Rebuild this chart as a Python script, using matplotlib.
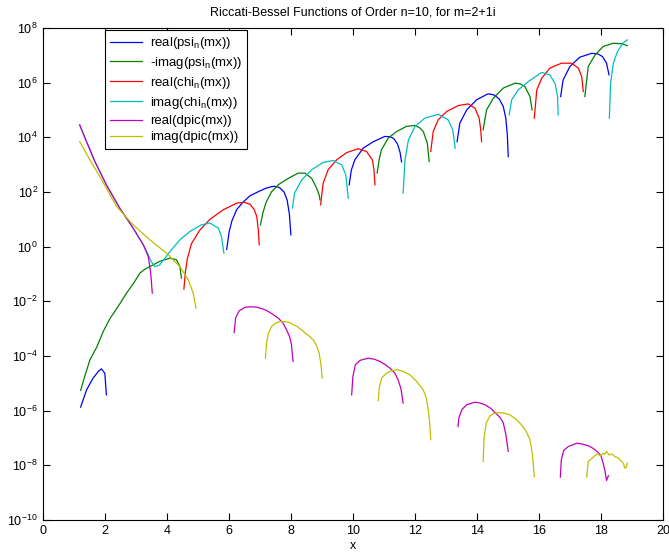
import numpy as np
import matplotlib.pyplot as plt

plt.rcParams['font.family'] = ['Liberation Sans', 'DejaVu Sans']
plt.rcParams['mathtext.default'] = 'regular'

nan = float('nan')

# x positions and log10 of the plotted value
# (nan separates the arches: negative values are not shown on a log axis)
real_psi_x = [1.22, 1.41, 1.62, 1.80, 1.89, 2.00, 2.05, nan,
              5.93, 6.01, 6.10, 6.25, 6.45, 6.68, 6.95, 7.20, 7.45, 7.62, 7.78, 7.88, 7.95, 8.00, nan,
              9.88, 9.95, 10.06, 10.33, 10.66, 11.03, 11.20, 11.32, 11.44, 11.52, 11.57, nan,
              13.36, 13.45, 13.67, 13.99, 14.36, 14.55, 14.72, 14.85, 14.93, 14.98, 15.01, nan,
              16.70, 16.78, 17.00, 17.32, 17.70, 17.90, 18.05, 18.18, 18.26]
real_psi_exp = [-5.87, -5.24, -4.81, -4.55, -4.47, -4.63, -5.42, nan,
                -0.10, 0.55, 0.95, 1.35, 1.62, 1.86, 2.01, 2.14, 2.21, 2.17, 2.00, 1.70, 1.20, 0.43, nan,
                2.26, 2.80, 3.17, 3.60, 3.84, 4.03, 4.02, 3.95, 3.75, 3.45, 3.10, nan,
                3.84, 4.52, 5.00, 5.37, 5.59, 5.55, 5.40, 5.12, 4.70, 4.10, 3.29, nan,
                5.49, 6.10, 6.59, 6.93, 7.07, 7.05, 6.95, 6.71, 6.28]

neg_imag_psi_x = [1.22, 1.35, 1.52, 1.75, 1.95, 2.16, 2.45, 2.70, 2.95, 3.13, 3.30, 3.45, 3.77, 4.10, 4.31, 4.42, 4.47, nan,
                  7.02, 7.10, 7.20, 7.38, 7.59, 7.75, 8.00, 8.24, 8.45, 8.67, 8.83, 8.91, 8.94, nan,
                  10.78, 10.85, 10.92, 11.14, 11.41, 11.73, 12.00, 12.15, 12.27, 12.40, 12.46, nan,
                  14.20, 14.31, 14.53, 14.85, 15.23, 15.40, 15.55, 15.71, 15.78, nan,
                  17.48, 17.59, 17.81, 18.07, 18.40, 18.67, 18.85]
neg_imag_psi_exp = [-5.26, -4.75, -4.14, -3.65, -3.10, -2.64, -2.15, -1.70, -1.30, -0.97, -0.82, -0.73, -0.54, -0.42, -0.48, -0.73, -1.15, nan,
                    0.80, 1.25, 1.62, 2.01, 2.26, 2.38, 2.55, 2.69, 2.69, 2.50, 2.14, 1.90, 1.71, nan,
                    2.69, 3.20, 3.54, 3.97, 4.21, 4.40, 4.43, 4.35, 4.21, 3.78, 3.11, nan,
                    4.27, 5.00, 5.43, 5.80, 5.98, 5.95, 5.85, 5.49, 5.00, nan,
                    5.49, 6.59, 7.01, 7.32, 7.44, 7.42, 7.35]

real_chi_x = [4.55, 4.60, 4.66, 4.79, 5.06, 5.39, 5.82, 6.25, 6.50, 6.68, 6.82, 6.90, 6.95, 6.98, nan,
              8.96, 9.04, 9.20, 9.47, 9.80, 10.17, 10.44, 10.63, 10.68, 10.71, nan,
              12.51, 12.59, 12.75, 13.02, 13.40, 13.72, 13.94, 14.07, 14.12, 14.15, nan,
              15.85, 15.93, 16.09, 16.35, 16.73, 17.05, 17.27, 17.38, 17.43]
real_chi_exp = [-1.55, -0.90, -0.45, 0.10, 0.60, 1.00, 1.35, 1.59, 1.62, 1.55, 1.35, 1.10, 0.60, 0.07, nan,
                1.53, 2.32, 2.81, 3.17, 3.44, 3.58, 3.48, 3.17, 2.80, 2.26, nan,
                3.48, 4.21, 4.64, 4.94, 5.16, 5.22, 5.06, 4.70, 4.30, 3.84, nan,
                4.70, 5.73, 6.16, 6.53, 6.71, 6.71, 6.53, 6.22, 5.67]

imag_chi_x = [1.19, 1.41, 1.68, 2.05, 2.48, 2.91, 3.24, 3.40, 3.50, 3.61, 3.77, 4.10, 4.42, 4.74, 5.12, 5.39, 5.66, 5.76, 5.84, nan,
              8.05, 8.12, 8.35, 8.67, 9.04, 9.37, 9.64, 9.77, 9.85, nan,
              11.62, 11.68, 11.79, 12.00, 12.32, 12.75, 13.07, 13.22, 13.30, nan,
              15.04, 15.12, 15.33, 15.66, 16.09, 16.35, 16.52, 16.60, 16.62, nan,
              18.27, 18.31, 18.40, 18.53, 18.72, 18.85]
imag_chi_exp = [4.45, 3.84, 3.11, 2.26, 1.41, 0.68, 0.07, -0.30, -0.55, -0.73, -0.67, -0.18, 0.25, 0.55, 0.80, 0.86, 0.68, 0.37, -0.24, nan,
                1.41, 1.96, 2.44, 2.81, 3.08, 3.15, 2.99, 2.63, 1.77, nan,
                1.96, 3.17, 3.90, 4.39, 4.70, 4.84, 4.64, 4.27, 3.60, nan,
                4.82, 5.37, 5.73, 6.04, 6.37, 6.28, 5.97, 5.49, 4.82, nan,
                4.70, 5.97, 6.71, 7.13, 7.46, 7.56]

real_dpic_x = [1.19, 1.41, 1.68, 2.05, 2.48, 2.91, 3.24, 3.40, 3.48, 3.53, nan,
               6.17, 6.22, 6.33, 6.52, 6.70, 6.89, 7.10, 7.27, 7.45, 7.59, 7.75, 7.86, 7.96, 8.02, 8.07, nan,
               9.96, 10.00, 10.08, 10.23, 10.49, 10.70, 10.87, 11.05, 11.19, 11.35, 11.46, 11.55, 11.62, nan,
               13.39, 13.42, 13.52, 13.67, 13.94, 14.10, 14.26, 14.45, 14.58, 14.75, 14.85, 14.93, 15.01, nan,
               16.69, 16.72, 16.80, 16.95, 17.22, 17.40, 17.59, 17.75, 17.91, 18.00, 18.07, 18.13, 18.18, 18.24]
real_dpic_exp = [4.45, 3.84, 3.11, 2.26, 1.41, 0.68, 0.07, -0.36, -0.97, -1.70, nan,
                 -3.14, -2.60, -2.35, -2.22, -2.20, -2.21, -2.28, -2.37, -2.50, -2.61, -2.80, -3.04, -3.30, -3.59, -4.20, nan,
                 -5.42, -4.75, -4.32, -4.16, -4.08, -4.12, -4.20, -4.32, -4.44, -4.62, -4.87, -5.20, -5.72, nan,
                 -6.58, -6.25, -5.95, -5.78, -5.69, -5.72, -5.78, -5.92, -6.07, -6.25, -6.45, -6.85, -7.49, nan,
                 -8.43, -7.80, -7.45, -7.31, -7.19, -7.22, -7.28, -7.38, -7.53, -7.65, -7.92, -8.20, -8.55, -8.38]

imag_dpic_x = [1.19, 1.52, 1.84, 2.38, 2.91, 3.45, 3.99, 4.42, 4.69, 4.85, 4.94, nan,
               7.18, 7.21, 7.28, 7.38, 7.50, 7.65, 7.80, 7.97, 8.20, 8.40, 8.60, 8.72, 8.83, 8.91, 8.97, 9.01, nan,
               10.82, 10.85, 10.93, 11.08, 11.25, 11.41, 11.62, 11.84, 12.05, 12.27, 12.37, 12.43, 12.48, 12.51, nan,
               14.20, 14.23, 14.30, 14.42, 14.55, 14.69, 14.88, 15.06, 15.25, 15.44, 15.60, 15.71, 15.79, 15.85, nan,
               17.54, 17.59, 17.75, 17.83, 17.91, 17.98, 18.07, 18.12, 18.18, 18.26, 18.34, 18.45,
               18.56, 18.66, 18.72, 18.77, 18.81, 18.85]
imag_dpic_exp = [3.84, 3.17, 2.56, 1.47, 0.80, 0.25, -0.24, -0.73, -1.21, -1.70, -2.25, nan,
                 -4.08, -3.55, -3.15, -2.92, -2.80, -2.74, -2.74, -2.78, -2.92, -3.10, -3.28, -3.41, -3.62, -3.89, -4.30, -4.81, nan,
                 -5.63, -5.15, -4.80, -4.63, -4.54, -4.50, -4.56, -4.69, -4.92, -5.24, -5.55, -5.97, -6.50, -7.06, nan,
                 -7.86, -7.00, -6.45, -6.19, -6.10, -6.07, -6.09, -6.15, -6.30, -6.52, -6.78, -7.06, -7.60, -8.41, nan,
                 -8.43, -7.86, -7.70, -7.62, -7.58, -7.66, -7.55, -7.60, -7.49, -7.62, -7.58, -7.68,
                 -7.73, -7.85, -7.92, -8.10, -8.08, -7.92]

series = [
    (real_psi_x, real_psi_exp, (0, 0, 1), 'real(psi$_n$(mx))'),
    (neg_imag_psi_x, neg_imag_psi_exp, (0, 0.5, 0), '-imag(psi$_n$(mx))'),
    (real_chi_x, real_chi_exp, (1, 0, 0), 'real(chi$_n$(mx))'),
    (imag_chi_x, imag_chi_exp, (0, 0.75, 0.75), 'imag(chi$_n$(mx))'),
    (real_dpic_x, real_dpic_exp, (0.75, 0, 0.75), 'real(dpic(mx))'),
    (imag_dpic_x, imag_dpic_exp, (0.75, 0.75, 0), 'imag(dpic(mx))'),
]

fig = plt.figure(figsize=(6.69, 5.58), dpi=100)
ax = fig.add_axes([0.064, 0.068, 0.927, 0.882])

for xs, ex, col, lab in series:
    ax.semilogy(xs, 10.0 ** np.array(ex), color=col, lw=0.9, label=lab)

ax.set_xlim(0, 20)
ax.set_ylim(1e-10, 1e8)
ax.set_xticks(np.arange(0, 21, 2))
ax.set_yticks([10.0 ** k for k in range(-10, 9, 2)])
ax.yaxis.set_minor_locator(plt.NullLocator())
ax.tick_params(direction='in', top=True, right=True, length=5, labelsize=9)
ax.set_xlabel('x', fontsize=9, labelpad=2)
ax.set_title('Riccati-Bessel Functions of Order n=10, for m=2+1i', fontsize=9, pad=9)

leg = ax.legend(loc='upper left', bbox_to_anchor=(0.10, 0.996), fontsize=9.5,
                fancybox=False, edgecolor='black', framealpha=1,
                handlelength=2.4, handletextpad=0.6, labelspacing=0.3,
                borderpad=0.4, borderaxespad=0)
leg.get_frame().set_linewidth(0.8)

fig.savefig('out.png', dpi=100)
